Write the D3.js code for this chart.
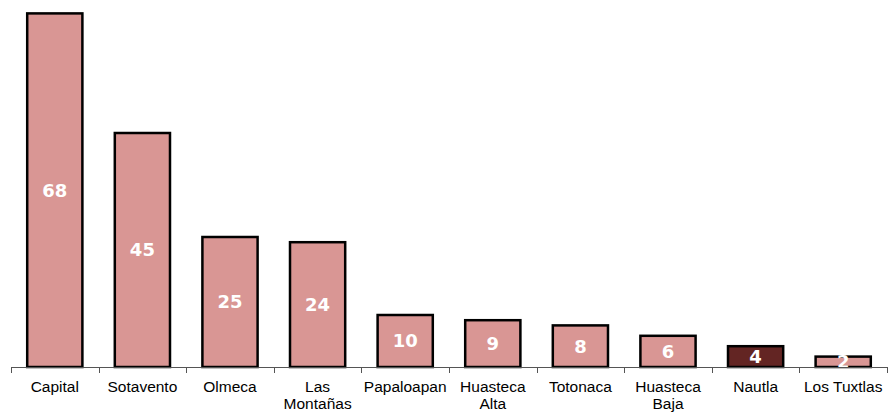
<!DOCTYPE html>
<html>
<head>
<meta charset="utf-8">
<script src="https://cdn.jsdelivr.net/npm/d3@7"></script>
<style>
  body { margin: 0; background: #fff; }
  svg { display: block; }
</style>
</head>
<body>
<svg id="chart" width="890" height="413"></svg>
<script>
// data
var regions = ["Capital", "Sotavento", "Olmeca", "Las\nMontañas", "Papaloapan",
               "Huasteca\nAlta", "Totonaca", "Huasteca\nBaja", "Nautla", "Los Tuxtlas"];
var counts = [68, 45, 25, 24, 10, 9, 8, 6, 4, 2];
var highlighted = ["Nautla"];

var width = 890, height = 413;
var baseY = 367;

var svg = d3.select("#chart");

var data = regions.map((r, i) => ({ region: r, value: counts[i] }));

var x = d3.scaleBand()
  .domain(regions)
  .range([11, 887])
  .paddingInner(0.37)
  .paddingOuter(0.185);

var y = d3.scaleLinear()
  .domain([0, 70])
  .range([baseY, 3]);

//************************ Bars *************************/
svg.append("g")
  .selectAll("rect")
  .data(data)
  .enter().append("rect")
    .attr("x", d => x(d.region))
    .attr("y", d => y(d.value))
    .attr("width", x.bandwidth())
    .attr("height", d => y(0) - y(d.value))
    .attr("fill", d => highlighted.includes(d.region) ? "#632523" : "#d99694")
    .attr("stroke", "#000")
    .attr("stroke-width", 2.5);

//************************ Value labels *************************/
svg.append("g")
  .selectAll("text")
  .data(data)
  .enter().append("text")
    .attr("x", d => x(d.region) + x.bandwidth() / 2)
    .attr("y", d => (y(d.value) + y(0)) / 2)
    .attr("dy", "0.36em")
    .attr("text-anchor", "middle")
    .attr("fill", "#fff")
    .style("font-family", "'DejaVu Sans', Verdana, sans-serif")
    .style("font-weight", "bold")
    .style("font-size", "18px")
    .text(d => d.value);

//************************ Axis *************************/
var axis = svg.append("g")
  .attr("transform", "translate(0," + baseY + ")")
  .call(d3.axisBottom(x).tickSize(0).tickPadding(0));

axis.select(".domain")
  .attr("stroke", "#555")
  .attr("stroke-width", 1)
  .attr("d", "M11,0.5H887");

// ticks between categories
var bounds = d3.range(regions.length + 1).map(i => 11 + i * x.step());
axis.selectAll(".sep")
  .data(bounds)
  .enter().append("line")
    .attr("class", "sep")
    .attr("x1", d => Math.round(d) + 0.5)
    .attr("x2", d => Math.round(d) + 0.5)
    .attr("y1", 0)
    .attr("y2", 6)
    .attr("stroke", "#555");

axis.selectAll(".tick text").each(function(d) {
  var t = d3.select(this);
  var lines = d.split("\n");
  t.text(null)
    .attr("y", 0)
    .attr("dy", null)
    .attr("fill", "#000")
    .style("font-family", "Arial, 'Liberation Sans', sans-serif")
    .style("font-size", "15.5px");
  lines.forEach((ln, i) => {
    t.append("tspan")
      .attr("x", 0)
      .attr("y", 25 + i * 17)
      .text(ln);
  });
});
</script>
</body>
</html>
